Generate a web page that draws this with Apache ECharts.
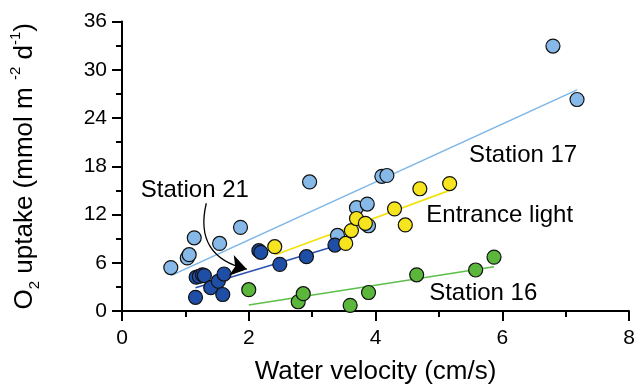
<!DOCTYPE html>
<html>
<head>
<meta charset="utf-8">
<script src="https://cdn.jsdelivr.net/npm/echarts@6/dist/echarts.min.js"></script>
<style>
html,body{margin:0;padding:0;background:#fff;}
#chart{width:639px;height:390px;}
</style>
</head>
<body>
<div id="chart"></div>
<script>
// ---- Data ----
var xTicks = [0, 2, 4, 6, 8];
var yTicks = [0, 6, 12, 18, 24, 30, 36];

var station17X = [0.77, 1.03, 1.06, 1.14, 1.54, 1.87, 2.96, 3.40, 3.70, 3.87, 3.89, 4.10, 4.18, 6.80, 7.18];
var station17Y = [5.4, 6.6, 7.0, 9.1, 8.4, 10.4, 16.05, 9.4, 12.85, 13.3, 10.6, 16.75, 16.85, 32.95, 26.3];

var station21X = [1.16, 1.17, 1.22, 1.27, 1.30, 1.40, 1.52, 1.61, 1.59, 2.16, 2.19, 2.49, 2.91, 3.36];
var station21Y = [1.7, 4.2, 4.3, 4.5, 4.4, 2.9, 3.7, 4.6, 2.05, 7.5, 7.3, 5.8, 6.75, 8.2];

var entranceX = [2.41, 3.53, 3.62, 3.70, 3.84, 4.30, 4.47, 4.70, 5.17];
var entranceY = [8.0, 8.4, 10.0, 11.5, 10.9, 12.7, 10.7, 15.2, 15.85];

var station16X = [2.00, 2.78, 2.86, 3.60, 3.89, 4.65, 5.58, 5.87];
var station16Y = [2.65, 1.15, 2.15, 0.7, 2.3, 4.5, 5.1, 6.7];

// regression line end points [x, y]
var fit17 = [[0.77, 4.4], [7.18, 27.5]];
var fitEntrance = [[2.42, 7.0], [5.17, 15.0]];
var fit21 = [[1.16, 2.9], [3.50, 8.4]];
var fit16 = [[2.00, 0.75], [5.87, 5.5]];

// annotation labels
var labelNames = ['Station 17', 'Entrance light', 'Station 16', 'Station 21'];
var labelX = [6.33, 5.96, 5.70, 1.15];
var labelY = [19.4, 11.9, 2.2, 15.0];
// arrow from Station 21 label to its line
var arrowFrom = [1.33, 13.4];
var arrowTo = [1.97, 5.2];

// ---- Build ----
function zip(xs, ys) { return xs.map(function (x, i) { return [x, ys[i]]; }); }
var FONT = '"Liberation Sans", Arial, Helvetica, sans-serif';

var colors = {
  s17: '#86b9e8', s17line: '#7db6e6',
  s21: '#1f4ea6', s21line: '#2a52b0',
  ent: '#f6e41e', entline: '#f3e10a',
  s16: '#5ab73c', s16line: '#5cbf48'
};

function scatter(name, data, color) {
  return {
    name: name, type: 'scatter', data: data, symbol: 'circle', symbolSize: 14,
    itemStyle: { color: color, borderColor: '#111', borderWidth: 1.2, opacity: 1 },
    emphasis: { disabled: true }, z: 3
  };
}
function fitLine(data, color) {
  return {
    type: 'line', data: data, symbol: 'none', silent: true,
    lineStyle: { color: color, width: 1.6 }, z: 2
  };
}

var chart = echarts.init(document.getElementById('chart'), null, { renderer: 'canvas' });
var option = {
  animation: false,
  backgroundColor: '#fff',
  grid: { left: 112, right: 10, top: 21.5, bottom: 75, containLabel: false },
  xAxis: {
    type: 'value', min: xTicks[0], max: xTicks[xTicks.length - 1], interval: 2,
    name: 'Water velocity (cm/s)', nameLocation: 'middle', nameGap: 48,
    nameTextStyle: { fontFamily: FONT, fontSize: 26, color: '#000' },
    axisLine: { onZero: false, lineStyle: { color: '#000', width: 2 } },
    axisTick: { show: true, length: 10, lineStyle: { color: '#000', width: 2 } },
    minorTick: { show: true, splitNumber: 2, length: 6, lineStyle: { color: '#000', width: 2 } },
    axisLabel: { fontFamily: FONT, fontSize: 21, color: '#000', margin: 17 },
    splitLine: { show: false }
  },
  yAxis: {
    type: 'value', min: yTicks[0], max: yTicks[yTicks.length - 1], interval: 6,
    name: 'O{sub|2} uptake (mmol m {sup|-2} d{sup|-1})', nameLocation: 'middle', nameGap: 80, nameRotate: 90,
    nameTextStyle: {
      fontFamily: FONT, fontSize: 26, color: '#000', lineHeight: 34,
      rich: {
        sub: { fontFamily: FONT, fontSize: 15, color: '#000', verticalAlign: 'bottom', lineHeight: 34 },
        sup: { fontFamily: FONT, fontSize: 15, color: '#000', verticalAlign: 'top', lineHeight: 34 }
      }
    },
    axisLine: { onZero: false, lineStyle: { color: '#000', width: 2 } },
    axisTick: { show: true, length: 10, lineStyle: { color: '#000', width: 2 } },
    minorTick: { show: true, splitNumber: 2, length: 6, lineStyle: { color: '#000', width: 2 } },
    axisLabel: { fontFamily: FONT, fontSize: 21, color: '#000', margin: 15 },
    splitLine: { show: false }
  },
  series: [
    fitLine(fit17, colors.s17line),
    fitLine(fitEntrance, colors.entline),
    fitLine(fit21, colors.s21line),
    fitLine(fit16, colors.s16line),
    scatter('Station 17', zip(station17X, station17Y), colors.s17),
    scatter('Station 21', zip(station21X, station21Y), colors.s21),
    scatter('Entrance light', zip(entranceX, entranceY), colors.ent),
    scatter('Station 16', zip(station16X, station16Y), colors.s16),
    {
      type: 'lines', coordinateSystem: 'cartesian2d', silent: true, z: 4,
      data: [{ coords: [arrowFrom, arrowTo] }],
      symbol: ['none', 'arrow'], symbolSize: [1, 16],
      lineStyle: { color: '#000', width: 1.3, curveness: -0.5, opacity: 1 },
      itemStyle: { color: '#000' }
    },
    {
      type: 'scatter', silent: true, symbol: 'circle', symbolSize: 1, z: 5,
      itemStyle: { color: 'rgba(0,0,0,0)', borderWidth: 0 },
      data: labelNames.map(function (n, i) { return { value: [labelX[i], labelY[i]], name: n }; }),
      label: {
        show: true, position: 'inside', formatter: '{b}',
        fontFamily: FONT, fontSize: 24, color: '#000', opacity: 1
      }
    }
  ]
};
chart.setOption(option);
</script>
</body>
</html>
